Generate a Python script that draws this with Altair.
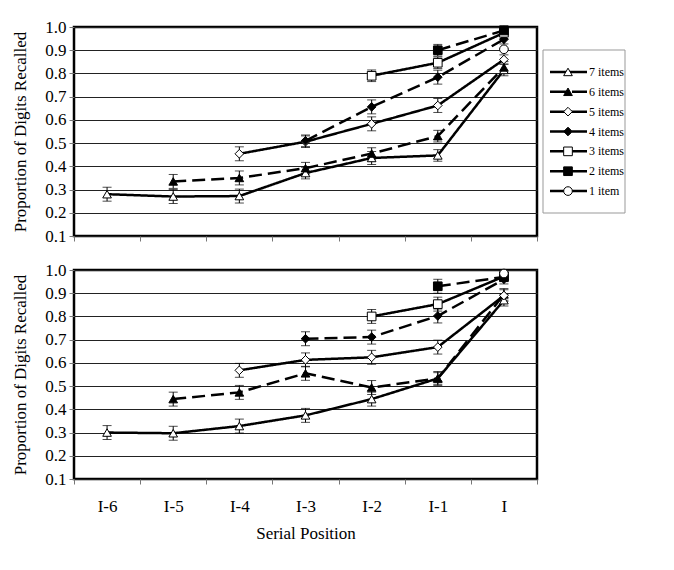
import altair as alt
import pandas as pd

positions = ["I-6", "I-5", "I-4", "I-3", "I-2", "I-1", "I"]
series_names = ["7 items", "6 items", "5 items", "4 items", "3 items", "2 items", "1 item"]
dash_series = ["6 items", "4 items", "2 items"]

# Top panel values (None = not measured)
top_7 = [0.280, 0.270, 0.272, 0.371, 0.436, 0.447, 0.815]
top_6 = [None, 0.335, 0.350, 0.392, 0.455, 0.530, 0.826]
top_5 = [None, None, 0.454, 0.506, 0.583, 0.662, 0.860]
top_4 = [None, None, None, 0.510, 0.656, 0.784, 0.947]
top_3 = [None, None, None, None, 0.790, 0.846, 0.975]
top_2 = [None, None, None, None, None, 0.900, 0.985]
top_1 = [None, None, None, None, None, None, 0.904]

top_7_err = [0.030, 0.030, 0.030, 0.025, 0.028, 0.025, 0.025]
top_6_err = [None, 0.030, 0.030, 0.025, 0.025, 0.025, 0.025]
top_5_err = [None, None, 0.030, 0.025, 0.030, 0.030, 0.020]
top_4_err = [None, None, None, 0.025, 0.030, 0.030, 0.020]
top_3_err = [None, None, None, None, 0.025, 0.025, 0.025]
top_2_err = [None, None, None, None, None, 0.025, 0.020]
top_1_err = [None, None, None, None, None, None, 0.000]

# Bottom panel values
bot_7 = [0.300, 0.297, 0.328, 0.374, 0.444, 0.533, 0.870]
bot_6 = [None, 0.444, 0.473, 0.555, 0.494, 0.533, 0.895]
bot_5 = [None, None, 0.568, 0.613, 0.624, 0.668, 0.890]
bot_4 = [None, None, None, 0.704, 0.711, 0.802, 0.960]
bot_3 = [None, None, None, None, 0.800, 0.853, 0.972]
bot_2 = [None, None, None, None, None, 0.930, 0.970]
bot_1 = [None, None, None, None, None, None, 0.985]

bot_7_err = [0.030, 0.030, 0.030, 0.030, 0.030, 0.025, 0.025]
bot_6_err = [None, 0.030, 0.030, 0.030, 0.030, 0.030, 0.025]
bot_5_err = [None, None, 0.030, 0.030, 0.030, 0.030, 0.025]
bot_4_err = [None, None, None, 0.030, 0.030, 0.030, 0.020]
bot_3_err = [None, None, None, None, 0.030, 0.030, 0.020]
bot_2_err = [None, None, None, None, None, 0.030, 0.020]
bot_1_err = [None, None, None, None, None, None, 0.015]

y_ticks = [0.1, 0.2, 0.3, 0.4, 0.5, 0.6, 0.7, 0.8, 0.9, 1.0]


def build(vals, errs):
    rows = []
    for name, v, e in zip(series_names, vals, errs):
        for p, y, err in zip(positions, v, e):
            if y is None:
                continue
            rows.append({"series": name, "pos": p, "value": y,
                         "lo": y - err, "hi": y + err,
                         "dash": "dashed" if name in dash_series else "solid"})
    return pd.DataFrame(rows)


top_df = build([top_7, top_6, top_5, top_4, top_3, top_2, top_1],
               [top_7_err, top_6_err, top_5_err, top_4_err, top_3_err, top_2_err, top_1_err])
bot_df = build([bot_7, bot_6, bot_5, bot_4, bot_3, bot_2, bot_1],
               [bot_7_err, bot_6_err, bot_5_err, bot_4_err, bot_3_err, bot_2_err, bot_1_err])

FONT = "Liberation Serif"

shape_scale = alt.Scale(domain=series_names,
                        range=["triangle-up", "triangle-up", "diamond", "diamond",
                               "square", "square", "circle"])
fill_scale = alt.Scale(domain=series_names,
                       range=["white", "black", "white", "black", "white", "black", "white"])
size_scale = alt.Scale(domain=series_names, range=[75, 75, 35, 60, 60, 60, 120])
dash_scale = alt.Scale(domain=["solid", "dashed"], range=[[1, 0], [13, 6]])


def panel(df, bottom):
    x_axis = alt.Axis(
        title="Serial Position" if bottom else None,
        labels=bottom, labelAngle=0, tickBand="extent", ticks=True, tickSize=5,
        tickColor="#777", domain=False, grid=False,
        labelFont=FONT, labelFontSize=17, labelColor="black", labelPadding=14,
        titleFont=FONT, titleFontSize=17, titleFontWeight="normal",
        titleColor="black", titlePadding=11,
    )
    y_axis = alt.Axis(values=y_ticks, labelOverlap=False, tickCount=10,
                      format=".1f", grid=True, gridColor="#222", gridWidth=1,
                      tickSize=5, tickColor="#777", domain=False,
                      labelFont=FONT, labelFontSize=17, labelColor="black",
                      labelPadding=3,
                      title="Proportion of Digits Recalled",
                      titleFont=FONT, titleFontSize=17, titleFontWeight="normal",
                      titleColor="black", titlePadding=15)
    y_scale = alt.Scale(domain=[0.1, 1.0], nice=False, zero=False)
    x = alt.X("pos:N", sort=positions,
              scale=alt.Scale(type="band", domain=positions, paddingInner=0, paddingOuter=0),
              axis=x_axis)
    y = alt.Y("value:Q", scale=y_scale, axis=y_axis)
    y_lo = alt.Y("lo:Q", scale=y_scale, axis=y_axis)
    y_hi = alt.Y("hi:Q", scale=y_scale, axis=y_axis)
    base = alt.Chart(df)
    lines = base.mark_line(color="black", strokeWidth=2.5).encode(
        x=x, y=y, detail="series:N",
        strokeDash=alt.StrokeDash("dash:N", scale=dash_scale, legend=None))
    rules = base.mark_rule(color="black", strokeWidth=1).encode(
        x=x, y=y_lo, y2="hi:Q", detail="series:N")
    cap_lo = base.mark_tick(color="black", size=9, thickness=1).encode(
        x=x, y=y_lo, detail="series:N")
    cap_hi = base.mark_tick(color="black", size=9, thickness=1).encode(
        x=x, y=y_hi, detail="series:N")
    pts = base.mark_point(filled=True, stroke="black", strokeWidth=1, opacity=1).encode(
        x=x, y=y,
        shape=alt.Shape("series:N", scale=shape_scale, legend=None),
        fill=alt.Fill("series:N", scale=fill_scale, legend=None),
        size=alt.Size("series:N", scale=size_scale, legend=None))
    return alt.layer(lines, rules, cap_lo, cap_hi, pts).properties(
        width=463, height=209,
        view=alt.ViewBackground(stroke="black", strokeWidth=2.5))


leg_df = pd.DataFrame({"series": series_names,
                       "dash": ["dashed" if s in dash_series else "solid" for s in series_names]})
leg_y = alt.Y("series:N", sort=series_names,
              scale=alt.Scale(type="point", domain=series_names, range=[35, 174]),
              axis=None)
box = alt.Chart(pd.DataFrame({"k": [0]})).mark_rect(
    fill="white", stroke="#999", strokeWidth=1).encode(
    x=alt.value(0), x2=alt.value(82), y=alt.value(23), y2=alt.value(186))
leg_solid = alt.Chart(leg_df).transform_filter(alt.datum.dash == "solid").mark_rule(
    color="black", strokeWidth=2.5).encode(x=alt.value(7), x2=alt.value(44), y=leg_y)
leg_dash = alt.Chart(leg_df).transform_filter(alt.datum.dash == "dashed").mark_rule(
    color="black", strokeWidth=2.5, strokeDash=[16, 6]).encode(
    x=alt.value(7), x2=alt.value(44), y=leg_y)
leg_pts = alt.Chart(leg_df).mark_point(filled=True, stroke="black", strokeWidth=1, opacity=1).encode(
    x=alt.value(25), y=leg_y,
    shape=alt.Shape("series:N", scale=shape_scale, legend=None),
    fill=alt.Fill("series:N", scale=fill_scale, legend=None),
    size=alt.Size("series:N", scale=size_scale, legend=None))
leg_txt = alt.Chart(leg_df).mark_text(
    align="left", baseline="middle", font=FONT, fontSize=12, color="black").encode(
    x=alt.value(46), y=leg_y, text="series:N")
legend = alt.layer(box, leg_solid, leg_dash, leg_pts, leg_txt).properties(
    width=84, height=209, view=alt.ViewBackground(stroke=None))

top_row = alt.hconcat(panel(top_df, False), legend, spacing=3).resolve_scale(
    x="independent", y="independent")
chart = alt.vconcat(top_row, panel(bot_df, True), spacing=13).resolve_scale(
    x="independent", y="independent"
).properties(
    padding={"left": 2, "top": 8, "right": 5, "bottom": 5},
    background="white",
)

chart.save("out.html", embed_options={"renderer": "svg", "actions": False})
